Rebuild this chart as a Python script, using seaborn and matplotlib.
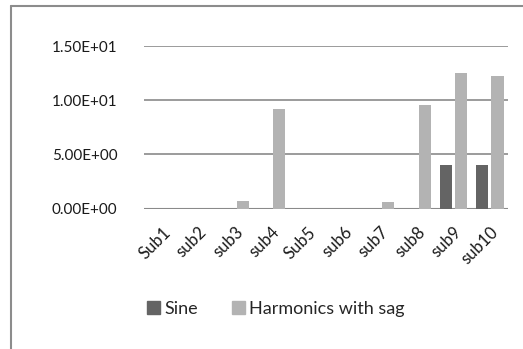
import matplotlib
matplotlib.use("Agg")
import matplotlib.pyplot as plt
from matplotlib.lines import Line2D
from matplotlib.ticker import FixedLocator, FuncFormatter
import seaborn as sns
import pandas as pd

categories = ["Sub1", "sub2", "sub3", "sub4", "Sub5", "sub6", "sub7", "sub8", "sub9", "sub10"]
sine = [0, 0, 0, 0, 0, 0, 0, 0, 4.0, 4.0]
harmonics_sag = [0, 0, 0.72, 9.2, 0, 0, 0.65, 9.6, 12.5, 12.2]
series_names = ["Sine", "Harmonics with sag"]
colors = ["#646464", "#b3b3b3"]

df = pd.DataFrame({
    "category": categories * 2,
    "value": sine + harmonics_sag,
    "series": [series_names[0]] * len(categories) + [series_names[1]] * len(categories),
})

sns.set_style("white")
plt.rcParams["font.family"] = ["Lato", "DejaVu Sans"]

fig = plt.figure(figsize=(5.23, 3.49), dpi=100)
ax = fig.add_axes([144 / 523, (349 - 208.7) / 349, (508 - 144) / 523, (208.7 - 46) / 349])

sns.barplot(data=df, x="category", y="value", hue="series", order=categories,
            hue_order=series_names, palette=colors, width=0.84, gap=0.2,
            saturation=1, linewidth=0, ax=ax, legend=False)

ax.set_ylim(0, 15)
ax.set_xlim(-0.5, len(categories) - 0.5)
ax.yaxis.set_major_locator(FixedLocator([0, 5, 10, 15]))
ax.yaxis.set_major_formatter(FuncFormatter(lambda v, p: f"{v:.2E}"))
ax.grid(axis="y", color="#8a8a8a", linewidth=1.2)
ax.set_axisbelow(True)
for s in ax.spines.values():
    s.set_visible(False)
ax.axhline(0, color="#8a8a8a", linewidth=1.5, zorder=0.5)
ax.set_xlabel("")
ax.set_ylabel("")
ax.tick_params(axis="y", length=0, labelsize=11, colors="#1a1a1a", pad=19)
ax.tick_params(axis="x", length=0, labelsize=12, colors="#1a1a1a", pad=11)
for lbl in ax.get_xticklabels():
    lbl.set_rotation(45)
    lbl.set_ha("right")
    lbl.set_rotation_mode("anchor")

# chart frame
fy = 1 - 6 / 349
fx = 11 / 523
fig.add_artist(Line2D([fx, fx], [0, fy], color="#8c8c8c", linewidth=1.5))
fig.add_artist(Line2D([fx, 1], [fy, fy], color="#8c8c8c", linewidth=1.5))

handles = [plt.Rectangle((0, 0), 1, 1, color=c) for c in colors]
fig.legend(handles, series_names, loc="center", bbox_to_anchor=(276 / 523, (349 - 309) / 349),
           ncol=2, frameon=False, fontsize=13, handlelength=0.7, handleheight=0.7,
           handletextpad=0.25, columnspacing=1.9)

fig.savefig("out.png", dpi=100)
